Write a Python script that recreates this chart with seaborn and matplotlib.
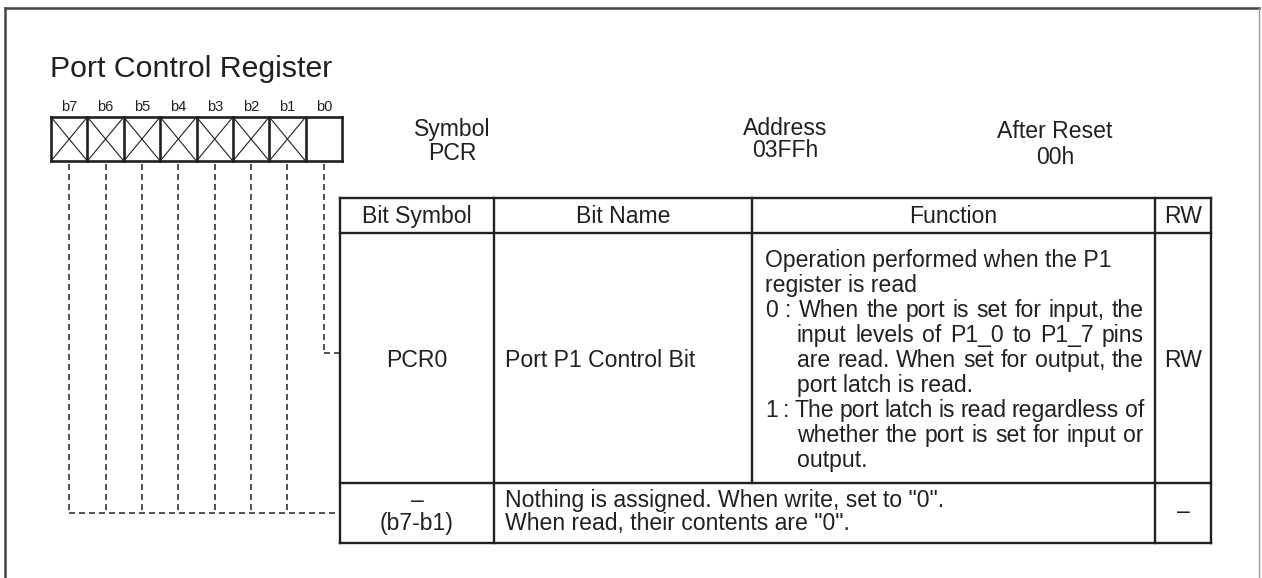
import matplotlib
matplotlib.use("Agg")
import matplotlib.pyplot as plt
import seaborn as sns

# ---------------- content ----------------
title = "Port Control Register"
bit_labels = ["b7", "b6", "b5", "b4", "b3", "b2", "b1", "b0"]
bit_reserved = [True, True, True, True, True, True, True, False]
info_heads = ["Symbol", "Address", "After Reset"]
info_vals = ["PCR", "03FFh", "00h"]
col_heads = ["Bit Symbol", "Bit Name", "Function", "RW"]
row1_symbol = "PCR0"
row1_name = "Port P1 Control Bit"
row1_function = [
    "Operation performed when the P1",
    "register is read",
    "0 : When the port is set for input, the",
    "input levels of P1_0 to P1_7 pins",
    "are read. When set for output, the",
    "port latch is read.",
    "1 : The port latch is read regardless of",
    "whether the port is set for input or",
    "output.",
]
row1_indent = [0, 0, 0, 1, 1, 1, 0, 1, 1]
row1_justify = [0, 0, 1, 1, 1, 0, 1, 1, 0]
row1_rw = "RW"
row2_symbol = ["\u2013", "(b7-b1)"]
row2_text = ['Nothing is assigned. When write, set to "0".',
             'When read, their contents are "0".']
row2_rw = "\u2013"

# ---------------- layout ----------------
W, H = 1262, 578
INK = "#231f20"
FS = 16.6
sns.set_theme(style="white")
plt.rcParams["font.family"] = ["Liberation Sans", "DejaVu Sans"]
plt.rcParams["lines.scale_dashes"] = False

fig = plt.figure(figsize=(W / 100, H / 100), dpi=100)
ax = fig.add_axes([0, 0, 1, 1])
ax.set_xlim(0, W)
ax.set_ylim(H, 0)
ax.axis("off")
fig.canvas.draw()
renderer = fig.canvas.get_renderer()

def line(xs, ys, lw=1.44, color=INK, **kw):
    ax.plot(xs, ys, color=color, lw=lw, solid_capstyle="projecting", **kw)

def txt(x, y, s, ha="center", fs=FS, va="baseline"):
    return ax.text(x, y, s, ha=ha, va=va, fontsize=fs, color=INK)

# outer frame
line([5, 5], [8, H + 5], lw=1.8, color="#444444")
line([5, 1259], [8, 8], lw=1.8, color="#444444")
line([1259, 1259], [8, H + 5], lw=1.0, color="#999999")

# title
txt(50, 77, title, ha="left", fs=21.8)

# register cells
rx0, rx1, ry0, ry1 = 51, 342, 117, 161
n = len(bit_labels)
cw = (rx1 - rx0) / n
centers = []
for i, (lab, res) in enumerate(zip(bit_labels, bit_reserved)):
    x0 = rx0 + i * cw
    x1 = x0 + cw
    cx = (x0 + x1) / 2
    centers.append(cx)
    txt(cx, 111, lab, fs=10.5)
    if res:
        line([x0, x1], [ry0, ry1], lw=0.8)
        line([x0, x1], [ry1, ry0], lw=0.8)
for i in range(n + 1):
    x = rx0 + i * cw
    line([x, x], [ry0, ry1], lw=1.9)
line([rx0, rx1], [ry0, ry0], lw=1.9)
line([rx0, rx1], [ry1, ry1], lw=1.9)

# table geometry
cols = [340, 494, 752, 1155, 1211]
rows = [198, 233, 483, 543]

# leader dashed lines
dash = dict(lw=1.1, dashes=(4.3, 2.9), solid_capstyle="butt")
ystop_res = 513
ystop_b0 = 353
for cx, res in zip(centers, bit_reserved):
    yb = ystop_res if res else ystop_b0
    ax.plot([cx, cx], [164, yb], color=INK, **dash)
ax.plot([centers[0], cols[0]], [ystop_res, ystop_res], color=INK, **dash)
ax.plot([centers[-1], cols[0]], [ystop_b0, ystop_b0], color=INK, **dash)

# info headings
info_x = [452, 785, 1055]
info_y = [[136, 160], [135, 157], [138, 164]]
for x, (y1, y2), h, v in zip(info_x, info_y, info_heads, info_vals):
    txt(x, y1, h)
    txt(x, y2, v)

# table lines
for x in cols:
    if x == cols[2]:
        line([x, x], [rows[0], rows[2]], lw=1.7)
    else:
        line([x, x], [rows[0], rows[3]], lw=1.7)
for y in rows:
    line([cols[0], cols[-1]], [y, y], lw=1.7)

# header
for i, h in enumerate(col_heads):
    txt((cols[i] + cols[i + 1]) / 2, 223, h)

# row 1
ymid1 = 367
txt((cols[0] + cols[1]) / 2, ymid1, row1_symbol)
txt(505, ymid1, row1_name, ha="left")
txt((cols[3] + cols[4]) / 2, ymid1, row1_rw)

fx0, findent, fright = 765, 797, 1144
fy0, fdy = 267, 25
for k, (s, ind, jus) in enumerate(zip(row1_function, row1_indent, row1_justify)):
    x0 = findent if ind else fx0
    y = fy0 + k * fdy
    if not jus:
        txt(x0, y, s, ha="left")
        continue
    words = s.split(" ")
    ts = [txt(0, y, w, ha="left") for w in words]
    widths = [t.get_window_extent(renderer).width for t in ts]
    gap = (fright - x0 - sum(widths)) / (len(words) - 1)
    x = x0
    for t, w in zip(ts, widths):
        t.set_x(x)
        x += w + gap

# row 2
txt((cols[0] + cols[1]) / 2, 507, row2_symbol[0])
txt((cols[0] + cols[1]) / 2, 530, row2_symbol[1])
txt(505, 507, row2_text[0], ha="left")
txt(505, 530, row2_text[1], ha="left")
txt((cols[3] + cols[4]) / 2, 518, row2_rw)

fig.savefig("out.png", dpi=100, facecolor="white")
